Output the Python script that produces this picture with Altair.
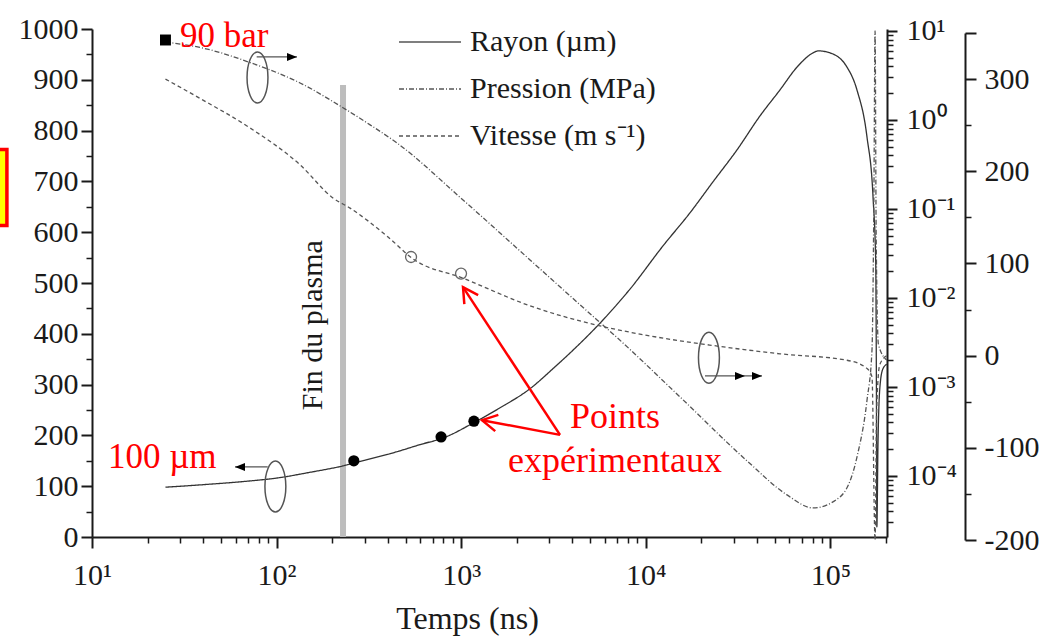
import altair as alt
import pandas as pd

# ---------------- data ----------------
# Rayon (µm) vs temps (ns)
ray_t = [25, 40, 70, 100, 150, 229, 300, 450, 600, 800, 1170, 1600, 2360, 3200, 4040,
         5650, 8210, 12390, 17340, 23100, 31190, 41570, 53300, 65950, 80500,
         85700, 99540, 123000, 139300, 157900, 170200, 176000, 177500, 178500,
         181000, 185000, 192000, 202000]
ray_r = [98, 103, 110, 116, 127, 140, 151, 168, 182, 195, 225, 253, 292, 334, 368,
         421, 488, 573, 638, 699, 762, 829, 880, 925, 953,
         957, 953, 925, 880, 787, 669, 540, 300, 20,
         180, 290, 330, 340]

# Pression (MPa)
pres_t = [25, 40, 72, 134, 229, 321, 449, 1023, 2360, 5445, 6640, 15310, 35300,
          58200, 80500, 112700, 139300, 157900, 168000, 172000, 174600, 177000,
          182000, 202000]
pres_p = [7.5, 6.4, 4.4, 2.6, 1.37, 0.88, 0.55, 0.126, 0.0267, 0.00566, 0.00394,
          7.73e-4, 1.48e-4, 6.12e-5, 4.37e-5, 5.8e-5, 1.63e-4, 7.1e-4, 2.6e-3,
          0.126, 10, 0.05, 0.003, 0.002]

# Vitesse (m/s)
vit_t = [25, 38.5, 71.8, 134, 202, 250, 400, 548, 1023, 2360, 5445, 10140, 23100,
         53300, 123000, 157900, 168000, 174600, 178000, 185000, 202000]
vit_v = [300, 279, 247, 207, 171, 160, 129, 105, 84, 54, 33, 22, 11,
         2, -5, -14, -23, -200, -60, -10, 0]

# experimental points
exp_r_t = [262, 778, 1172]
exp_r = [150, 197, 228]
exp_v_t = [535, 998]
exp_v = [107, 89]
exp_p_t = [25]
exp_p = [7.9]

series_names = ["Rayon (µm)", "Pression (MPa)", "Vitesse (m s⁻¹)"]
series_dash = [[1, 0], [5, 2, 1, 2], [4, 3]]

# annotations (in time / rayon coordinates)
plasma_t = [229]
plasma_top = [890]
plasma_label_t = [157]
plasma_label_y = [417]

ell_t = [78.8, 98.5, 21980]
ell_y = [904.5, 99.4, 353]
shaft_t1 = [78, 89.5, 20930]
shaft_t2 = [129, 59.5, 42620]
shaft_y = [945, 138, 317]
head_t = [129, 59.5, 34460, 42620]
head_y = [945, 138, 317, 317]
head_ang = [0, 180, 0, 0]

red_tail_t = [3430, 3430]
red_tail_y = [201, 201]
red_tip_t = [1023, 1297]
red_tip_y = [492, 230]
red_ang = [236.8, 190.9]

red_txt = ["90 bar", "100 µm"]
red_txt_t = [30, 12.2]
red_txt_y = [965, 136]
pts_txt = ["Points", "expérimentaux"]
pts_txt_t = [6810, 6810]
pts_txt_y = [215, 128]

box_t = [2.98]
box_t2 = [3.46]
box_y = [763]
box_y2 = [613]

# ---------------- frames ----------------
df_r = pd.DataFrame({"t": ray_t, "v": ray_r, "series": series_names[0]})
df_p = pd.DataFrame({"t": pres_t, "v": pres_p, "series": series_names[1]})
df_v = pd.DataFrame({"t": vit_t, "v": vit_v, "series": series_names[2]})
df_er = pd.DataFrame({"t": exp_r_t, "v": exp_r})
df_ev = pd.DataFrame({"t": exp_v_t, "v": exp_v})
df_ep = pd.DataFrame({"t": exp_p_t, "v": exp_p})
df_bar = pd.DataFrame({"t": plasma_t, "v": [0], "v2": plasma_top})
df_plab = pd.DataFrame({"t": plasma_label_t, "v": plasma_label_y, "txt": ["Fin du plasma"]})
df_ell = pd.DataFrame({"t": ell_t, "v": ell_y})
df_shaft = pd.DataFrame({"t": shaft_t1, "t2": shaft_t2, "v": shaft_y})
df_head = pd.DataFrame({"t": head_t, "v": head_y, "a": head_ang})
df_red = pd.DataFrame({"t": red_tail_t, "v": red_tail_y, "t2": red_tip_t, "v2": red_tip_y})
df_redhead = pd.DataFrame({"t": red_tip_t, "v": red_tip_y, "a": red_ang})
df_rtxt = pd.DataFrame({"t": red_txt_t, "v": red_txt_y, "txt": red_txt})
df_ptxt = pd.DataFrame({"t": pts_txt_t, "v": pts_txt_y, "txt": pts_txt})
df_box = pd.DataFrame({"t": box_t, "t2": box_t2, "v": box_y, "v2": box_y2})

# ---------------- scales / axes ----------------
SERIF = "Liberation Serif"
INK = "#1a1a1a"
xs = alt.Scale(type="log", domain=[10, 202600])
ys_r = alt.Scale(domain=[0, 1000])
ys_p = alt.Scale(type="log", domain=[2.06e-5, 10.5])
ys_v = alt.Scale(domain=[-200, 350], range=[511, 4])

sup = "['⁰','¹','²','³','⁴','⁵']"
x_major = alt.Axis(orient="bottom", values=[10, 100, 1000, 10000, 100000],
                   labelExpr="'10' + " + sup + "[round(log(datum.value)/LN10)]",
                   tickSize=11, tickWidth=2, domainWidth=2, labelFont=SERIF,
                   labelFontSize=30, labelPadding=12, labelFlush=False,
                   labelOverlap=False, grid=False, title="Temps (ns)",
                   titleFont=SERIF, titleFontSize=32, titleFontWeight="normal",
                   titleX=375, titleY=91, titleBaseline="alphabetic",
                   domainColor=INK, tickColor=INK, labelColor=INK, titleColor=INK)
x_minor_vals = [k * 10 ** n for n in range(1, 6) for k in range(2, 10) if k * 10 ** n <= 202600]
x_minor = alt.Axis(orient="bottom", values=x_minor_vals, labels=False, tickSize=6,
                   tickWidth=1.5, domain=False, grid=False, title=None, tickColor=INK)

y_left_major = alt.Axis(orient="left", values=list(range(0, 1001, 100)), format="d",
                        tickSize=11, tickWidth=2, domainWidth=2, labelFont=SERIF,
                        labelFontSize=30, labelPadding=3, grid=False, title=None,
                        labelOverlap=False, domainColor=INK, tickColor=INK, labelColor=INK)
y_left_minor = alt.Axis(orient="left", values=list(range(50, 1000, 100)), tickSize=6,
                        tickWidth=1.5, labels=False, domain=False, grid=False,
                        title=None, tickColor=INK)

p_major_vals = [1e-4, 1e-3, 1e-2, 1e-1, 1, 10]
y_p_major = alt.Axis(orient="right", values=p_major_vals,
                     labelExpr="'10' + (datum.value < 0.5 ? '⁻' : '') + " + sup +
                               "[abs(round(log(datum.value)/LN10))]",
                     tickSize=10, tickWidth=2, domainWidth=2, labelFont=SERIF,
                     labelFontSize=30, labelPadding=9, grid=False, title=None,
                     labelOverlap=False, labelFlush=False,
                     domainColor=INK, tickColor=INK, labelColor=INK)
p_minor_vals = [k * 10.0 ** n for n in range(-5, 1) for k in range(2, 10)
                if 2.06e-5 <= k * 10.0 ** n <= 10]
y_p_minor = alt.Axis(orient="right", values=p_minor_vals, tickSize=6, tickWidth=1.5,
                     labels=False, domain=False, grid=False, title=None, tickColor=INK)

y_v_major = alt.Axis(orient="right", offset=78, values=[-200, -100, 0, 100, 200, 300, 350],
                     labelExpr="datum.value == 350 ? '' : '' + datum.value",
                     tickSize=11, tickWidth=2, domainWidth=2, labelFont=SERIF,
                     labelFontSize=30, labelPadding=8, grid=False, title=None,
                     labelOverlap=False, labelFlush=False,
                     domainColor=INK, tickColor=INK, labelColor=INK)
y_v_minor = alt.Axis(orient="right", offset=78, values=[-150, -50, 50, 150, 250],
                     tickSize=6, tickWidth=1.5, labels=False, domain=False,
                     grid=False, title=None, tickColor=INK)

dash_scale = alt.Scale(domain=series_names, range=series_dash)
legend = alt.Legend(title=None, orient="none", legendX=306, legendY=-19,
                    symbolType="stroke", symbolSize=3844, symbolStrokeWidth=1.3,
                    symbolStrokeColor="#555555", labelFont=SERIF, labelFontSize=30,
                    labelOffset=8, labelLimit=0, rowPadding=-2, padding=0,
                    labelColor=INK)

X = lambda ax=None: alt.X("t:Q", scale=xs, axis=ax)
XN = alt.X("t:Q", scale=xs, axis=None)

# ---------------- layers ----------------
box = alt.Chart(df_box).mark_rect(fill="#ffff00", stroke="#ff0000", strokeWidth=3.5).encode(
    x=XN, x2="t2:Q", y=alt.Y("v:Q", scale=ys_r, axis=None), y2="v2:Q")

bar = alt.Chart(df_bar).mark_rule(color="#bdbdbd", strokeWidth=6).encode(
    x=XN, y=alt.Y("v:Q", scale=ys_r, axis=None), y2="v2:Q")

ray = alt.Chart(df_r).mark_line(color="#333333", strokeWidth=1.3, interpolate="monotone").encode(
    x=X(x_major), y=alt.Y("v:Q", scale=ys_r, axis=y_left_major),
    strokeDash=alt.StrokeDash("series:N", scale=dash_scale, legend=legend))

pres = alt.Chart(df_p).mark_line(color="#555555", strokeWidth=1.3, interpolate="monotone").encode(
    x=XN, y=alt.Y("v:Q", scale=ys_p, axis=y_p_major),
    strokeDash=alt.StrokeDash("series:N", scale=dash_scale, legend=legend))

vit = alt.Chart(df_v).mark_line(color="#555555", strokeWidth=1.3, interpolate="monotone").encode(
    x=XN, y=alt.Y("v:Q", scale=ys_v, axis=y_v_major),
    strokeDash=alt.StrokeDash("series:N", scale=dash_scale, legend=legend))

dots = alt.Chart(df_er).mark_point(filled=True, color="#000000", size=125, opacity=1).encode(
    x=X(x_minor), y=alt.Y("v:Q", scale=ys_r, axis=y_left_minor))

circ = alt.Chart(df_ev).mark_point(filled=False, color="#666666", size=120,
                                    strokeWidth=1.3, opacity=1).encode(
    x=XN, y=alt.Y("v:Q", scale=ys_v, axis=y_v_minor))

sq = alt.Chart(df_ep).mark_square(color="#000000", size=120, opacity=1).encode(
    x=XN, y=alt.Y("v:Q", scale=ys_p, axis=y_p_minor))

ELL = "M0,-1A0.41,1,0,1,1,0,1A0.41,1,0,1,1,0,-1Z"
ell = alt.Chart(df_ell).mark_point(shape=ELL, filled=False, size=2601, color="#555555",
                                   strokeWidth=1.5, opacity=1).encode(
    x=XN, y=alt.Y("v:Q", scale=ys_r, axis=None))

shaft = alt.Chart(df_shaft).mark_rule(color="#555555", strokeWidth=1.2).encode(
    x=XN, x2="t2:Q", y=alt.Y("v:Q", scale=ys_r, axis=None))

TRI = "M0,0L-1,-0.4L-1,0.4Z"
head = alt.Chart(df_head).mark_point(shape=TRI, filled=True, size=400, color="#000000",
                                     opacity=1).encode(
    x=XN, y=alt.Y("v:Q", scale=ys_r, axis=None), angle=alt.Angle("a:Q", scale=None))

red = alt.Chart(df_red).mark_rule(color="#ff0000", strokeWidth=2.5).encode(
    x=XN, x2="t2:Q", y=alt.Y("v:Q", scale=ys_r, axis=None), y2="v2:Q")

CHEV = "M-1,-0.55L0,0L-1,0.55"
redhead = alt.Chart(df_redhead).mark_point(shape=CHEV, filled=False, size=900,
                                           color="#ff0000", strokeWidth=2.5, opacity=1).encode(
    x=XN, y=alt.Y("v:Q", scale=ys_r, axis=None), angle=alt.Angle("a:Q", scale=None))

plab = alt.Chart(df_plab).mark_text(angle=270, align="center", baseline="middle",
                                    font=SERIF, fontSize=30, color=INK).encode(
    x=XN, y=alt.Y("v:Q", scale=ys_r, axis=None), text="txt:N")

rtxt = alt.Chart(df_rtxt).mark_text(align="left", baseline="alphabetic", font=SERIF,
                                    fontSize=35, color="#ff0000").encode(
    x=XN, y=alt.Y("v:Q", scale=ys_r, axis=None), text="txt:N")

ptxt = alt.Chart(df_ptxt).mark_text(align="center", baseline="alphabetic", font=SERIF,
                                    fontSize=36, color="#ff0000").encode(
    x=XN, y=alt.Y("v:Q", scale=ys_r, axis=None), text="txt:N")

chart = alt.layer(
    box, bar, ray, pres, vit, dots, circ, sq, ell, shaft, head, red, redhead,
    plab, rtxt, ptxt
).resolve_scale(
    x="shared", y="independent"
).resolve_axis(
    x="independent", y="independent"
).properties(
    width=795, height=508,
    padding={"left": 92, "top": 29, "right": 159, "bottom": 100},
    autosize=alt.AutoSizeParams(type="none"),
    background="#ffffff",
).configure_view(stroke=None)

chart.save("out.html", embed_options={"renderer": "svg", "actions": False})
